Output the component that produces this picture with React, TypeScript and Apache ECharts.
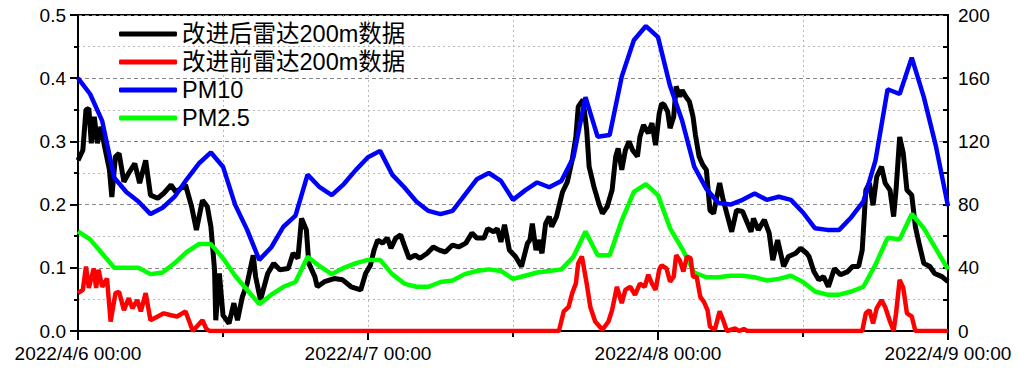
import React, { useEffect, useRef } from "react";
import * as echarts from "echarts";

// PM hourly values (µg/m3), hour 0 = 2022/4/6 00:00
const pm10: number[] = [
  160, 150, 133, 97, 88, 82, 74, 78, 85, 96, 106, 113, 104, 80, 64, 45, 53, 66, 73, 99,
  91, 86, 93, 102, 110, 114, 99, 91, 82, 76, 74, 76, 86, 96, 100, 95, 83, 89, 94, 91,
  95, 110, 148, 123, 124, 161, 184, 193, 186, 155, 133, 104, 90, 81, 80, 83, 87, 83, 85, 83,
  75, 65, 64, 64, 72, 82, 108, 153, 150, 173, 148, 117, 79,
];
const pm25: number[] = [
  63, 58, 49, 40, 40, 40, 36, 37, 43, 50, 55, 55, 46, 35, 26, 17, 23, 28, 31, 47,
  41, 36, 40, 43, 45, 45, 36, 30, 28, 28, 31, 32, 36, 38, 39, 38, 33, 35, 37, 38,
  39, 47, 63, 48, 48, 70, 88, 93, 86, 65, 52, 37, 34, 34, 35, 35, 34, 32, 33, 35,
  31, 25, 23, 23, 25, 28, 42, 59, 58, 74, 65, 52, 39,
];

// Radar 200 m data after improvement: sample hours and values
const afterT: number[] = [
  0, 0.4, 0.66, 0.9, 1.1, 1.35, 1.6, 1.9, 2.2, 2.6, 2.8, 3.1, 3.4, 3.8, 4.2, 4.7, 5.1, 5.6, 6.0, 6.6,
  7.1, 7.7, 8.1, 8.9, 9.4, 9.8, 10.3, 10.7, 11.0, 11.3, 11.4, 11.7, 12.0, 12.5, 12.9, 13.2, 13.6, 14.0, 14.5, 14.7,
  15.1, 15.7, 16.2, 16.7, 17.4, 17.8, 18.2, 18.5, 18.9, 19.1, 19.6, 19.8, 20.4, 21.2, 21.9, 22.6, 23.4, 23.8, 24.2, 24.5,
  24.8, 25.2, 25.6, 25.9, 26.3, 26.7, 27.0, 27.4, 27.9, 28.3, 28.9, 29.4, 29.9, 30.4, 31.0, 31.5, 32.1, 32.6, 33.0, 33.6,
  33.9, 34.4, 34.7, 35.0, 35.3, 35.7, 36.2, 36.7, 37.2, 37.4, 37.6, 37.9, 38.1, 38.4, 38.7, 39.0, 39.2, 39.6, 40.1, 40.5,
  40.9, 41.2, 41.4, 41.8, 42.1, 42.3, 42.7, 43.1, 43.4, 43.8, 44.2, 44.5, 44.7, 45.0, 45.3, 45.6, 45.9, 46.3, 46.5, 46.8,
  47.2, 47.5, 47.8, 48.1, 48.3, 48.5, 48.8, 49.0, 49.3, 49.5, 49.8, 50.0, 50.3, 50.6, 50.9, 51.1, 51.4, 51.7, 52.0, 52.3,
  52.6, 53.1, 53.4, 54.1, 54.5, 55.0, 55.7, 55.9, 56.3, 56.8, 57.2, 57.5, 57.9, 58.4, 58.8, 59.4, 59.8, 60.3, 60.5, 60.9,
  61.3, 61.7, 62.1, 62.6, 63.1, 63.7, 64.1, 64.6, 64.9, 65.2, 65.5, 65.8, 66.1, 66.5, 66.8, 67.2, 67.5, 67.7, 68.0, 68.3,
  68.6, 69.0, 69.3, 69.6, 70.0, 70.5, 70.9, 71.5, 72,
];
const afterV: number[] = [
  0.27, 0.286, 0.35, 0.352, 0.297, 0.339, 0.297, 0.323, 0.292, 0.255, 0.212, 0.276, 0.281, 0.236, 0.25, 0.265, 0.234, 0.27, 0.215, 0.21,
  0.218, 0.231, 0.22, 0.231, 0.197, 0.16, 0.207, 0.197, 0.165, 0.097, 0.017, 0.091, 0.025, 0.012, 0.044, 0.017, 0.054, 0.075, 0.12, 0.086,
  0.049, 0.091, 0.107, 0.097, 0.099, 0.123, 0.115, 0.178, 0.16, 0.107, 0.086, 0.07, 0.078, 0.083, 0.081, 0.07, 0.065, 0.091, 0.104, 0.128,
  0.144, 0.139, 0.147, 0.131, 0.147, 0.152, 0.136, 0.115, 0.12, 0.115, 0.123, 0.133, 0.128, 0.125, 0.136, 0.133, 0.139, 0.155, 0.147, 0.147,
  0.162, 0.157, 0.162, 0.141, 0.168, 0.128, 0.118, 0.102, 0.139, 0.144, 0.17, 0.128, 0.144, 0.123, 0.17, 0.181, 0.165, 0.181, 0.22, 0.236,
  0.271, 0.307, 0.355, 0.366, 0.318, 0.26, 0.228, 0.202, 0.186, 0.197, 0.223, 0.276, 0.289, 0.255, 0.286, 0.3, 0.286, 0.276, 0.307, 0.326,
  0.313, 0.329, 0.294, 0.344, 0.36, 0.358, 0.347, 0.321, 0.339, 0.387, 0.371, 0.381, 0.371, 0.363, 0.339, 0.31, 0.276, 0.263, 0.255, 0.191,
  0.186, 0.234, 0.207, 0.157, 0.191, 0.189, 0.157, 0.178, 0.16, 0.176, 0.155, 0.112, 0.144, 0.102, 0.118, 0.123, 0.131, 0.123, 0.118, 0.094,
  0.081, 0.086, 0.07, 0.099, 0.089, 0.094, 0.102, 0.102, 0.128, 0.223, 0.234, 0.199, 0.244, 0.26, 0.234, 0.223, 0.181, 0.223, 0.307, 0.281,
  0.223, 0.215, 0.165, 0.139, 0.107, 0.102, 0.091, 0.086, 0.078,
];

// Radar 200 m data before improvement: sample hours and values
const beforeT: number[] = [
  0, 0.4, 0.66, 0.9, 1.3, 1.5, 1.7, 2.0, 2.4, 2.7, 3.1, 3.4, 3.8, 4.2, 4.5, 4.9, 5.2, 5.6, 6.0, 6.6,
  7.1, 7.7, 8.2, 8.9, 9.5, 10.3, 10.6, 10.9, 39.8, 40.2, 40.6, 40.9, 41.2, 41.4, 41.7, 42.1, 42.4, 42.8, 43.4, 43.9,
  44.2, 44.6, 45.0, 45.3, 45.7, 46.1, 46.5, 46.9, 47.2, 47.5, 47.8, 48.1, 48.3, 48.7, 49.0, 49.3, 49.5, 49.8, 50.1, 50.4,
  50.7, 50.9, 51.2, 51.5, 51.8, 52.1, 52.3, 52.7, 53.1, 53.4, 53.7, 54.4, 54.7, 55.1, 55.4, 64.9, 65.2, 65.5, 65.8, 66.1,
  66.5, 66.8, 67.2, 67.5, 67.7, 68.0, 68.3, 68.6, 69.0, 69.3, 72,
];
const beforeV: number[] = [
  0.06, 0.065, 0.102, 0.068, 0.099, 0.068, 0.097, 0.07, 0.083, 0.015, 0.06, 0.062, 0.033, 0.052, 0.036, 0.049, 0.031, 0.06, 0.017, 0.023,
  0.028, 0.025, 0.023, 0.031, 0.0, 0.017, 0.004, 0, 0, 0.031, 0.038, 0.06, 0.075, 0.107, 0.118, 0.075, 0.038, 0.015, 0.002, 0.015,
  0.033, 0.07, 0.044, 0.065, 0.07, 0.057, 0.075, 0.07, 0.089, 0.075, 0.065, 0.097, 0.104, 0.099, 0.078, 0.086, 0.12, 0.112, 0.094, 0.118,
  0.115, 0.086, 0.086, 0.054, 0.046, 0.033, 0.007, 0.002, 0.031, 0.017, 0, 0.004, 0, 0.003, 0, 0, 0.028, 0.033, 0.012, 0.036,
  0.049, 0.038, 0.015, 0, 0.028, 0.081, 0.068, 0.028, 0.023, 0, 0,
];

const seriesNames = ["改进后雷达200m数据", "改进前雷达200m数据", "PM10", "PM2.5"];
const leftTicks = { min: 0, max: 0.5, interval: 0.1 };
const rightTicks = { min: 0, max: 200, interval: 40 };
const startDay = 6;

const LATIN = "'Liberation Sans', Arial, 'Noto Sans CJK SC', sans-serif";

export default function App() {
  const ref = useRef<HTMLDivElement>(null);
  useEffect(() => {
    if (!ref.current) return;
    const chart = echarts.init(ref.current, undefined, { renderer: "svg" });
    const pair = (t: number[], v: number[]) => t.map((x, i) => [x, v[i]]);
    const hourly = (v: number[]) => v.map((y, i) => [i, y]);
    const gridDotted = { show: true, lineStyle: { color: "#b8b8b8", type: [2, 3], width: 1 } };
    chart.setOption({
      animation: false,
      grid: { left: 78, right: 72, top: 15, bottom: 43, show: true, borderColor: "#000", borderWidth: 2, backgroundColor: "transparent" },
      legend: {
        data: seriesNames,
        orient: "vertical",
        left: 114,
        top: 15,
        itemGap: 0,
        itemWidth: 58,
        itemHeight: 5,
        icon: "roundRect",
        textStyle: { fontSize: 23.5, color: "#000", fontFamily: LATIN, lineHeight: 28 },
      },
      xAxis: {
        type: "value",
        min: 0,
        max: 72,
        interval: 24,
        axisLine: { lineStyle: { color: "#000", width: 2 } },
        axisTick: { show: true, length: 9, lineStyle: { color: "#000", width: 2 } },
        minorTick: { show: true, splitNumber: 2, length: 6, lineStyle: { color: "#000", width: 2 } },
        splitLine: gridDotted,
        minorSplitLine: gridDotted,
        axisLabel: {
          fontSize: 19,
          color: "#000",
          fontFamily: LATIN,
          margin: 13,
          showMinLabel: true,
          showMaxLabel: true,
          formatter: (v: number) => `2022/4/${startDay + Math.round(v / 24)} 00:00`,
        },
      },
      yAxis: [
        {
          type: "value",
          ...leftTicks,
          axisLine: { show: true, lineStyle: { color: "#000", width: 2 } },
          axisTick: { show: true, length: 8, lineStyle: { color: "#000", width: 2 } },
          minorTick: { show: true, splitNumber: 2, length: 4, lineStyle: { color: "#000", width: 2 } },
          splitLine: { show: true, lineStyle: { color: "#888", type: [4, 3], width: 1 } },
          minorSplitLine: { show: true, lineStyle: { color: "#b8b8b8", type: [2, 3], width: 1 } },
          axisLabel: { fontSize: 19, color: "#000", fontFamily: LATIN, margin: 12, formatter: (v: number) => v.toFixed(1) },
        },
        {
          type: "value",
          ...rightTicks,
          position: "right",
          axisLine: { show: true, lineStyle: { color: "#000", width: 2 } },
          axisTick: { show: true, inside: true, length: 5, lineStyle: { color: "#000", width: 2 } },
          minorTick: { show: true, splitNumber: 2, length: 5, lineStyle: { color: "#000", width: 2 } },
          splitLine: { show: false },
          axisLabel: { fontSize: 19, color: "#000", fontFamily: LATIN, margin: 10 },
        },
      ],
      series: [
        {
          name: seriesNames[0], type: "line", yAxisIndex: 0, data: pair(afterT, afterV), showSymbol: false, z: 2,
          lineStyle: { color: "#000", width: 5 }, itemStyle: { color: "#000" },
        },
        {
          name: seriesNames[1], type: "line", yAxisIndex: 0, data: pair(beforeT, beforeV), showSymbol: false, z: 4,
          lineStyle: { color: "#ff0000", width: 4.5 }, itemStyle: { color: "#ff0000" },
        },
        {
          name: seriesNames[2], type: "line", yAxisIndex: 1, data: hourly(pm10), showSymbol: false, z: 4,
          lineStyle: { color: "#0000ff", width: 4.5 }, itemStyle: { color: "#0000ff" },
        },
        {
          name: seriesNames[3], type: "line", yAxisIndex: 1, data: hourly(pm25), showSymbol: false, z: 3,
          lineStyle: { color: "#00ff00", width: 4.5 }, itemStyle: { color: "#00ff00" },
        },
      ],
    });
    return () => chart.dispose();
  }, []);
  return <div ref={ref} style={{ position: "absolute", left: 0, top: 0, width: 1020, height: 374 }} />;
}
